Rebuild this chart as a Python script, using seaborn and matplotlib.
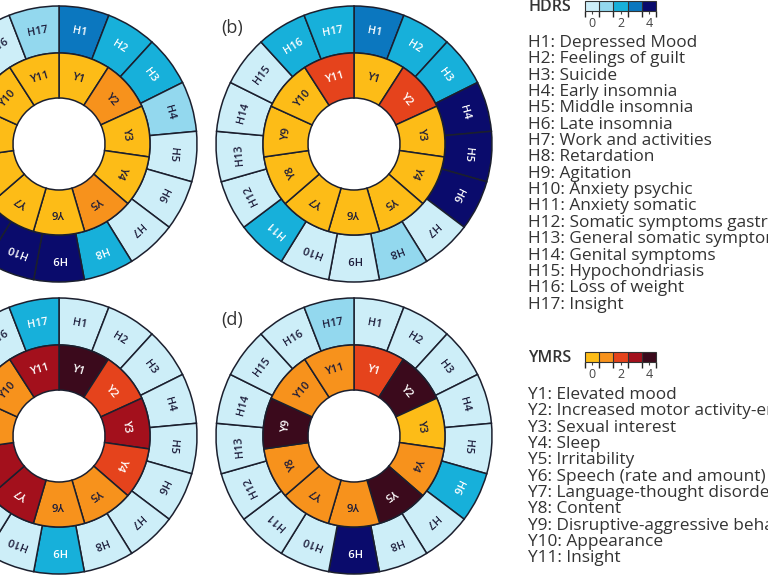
import numpy as np
import matplotlib
matplotlib.use("Agg")
import matplotlib.pyplot as plt
import seaborn as sns
from matplotlib.colors import ListedColormap, BoundaryNorm
from matplotlib.cm import ScalarMappable

sns.set_theme(style="white")
plt.rcParams["font.family"] = ["Open Sans", "DejaVu Sans"]

# item scores (0-4) per panel, H1..H17 and Y1..Y11
panels = ["(a)", "(b)", "(c)", "(d)"]
hdrs_a = [3, 2, 2, 1, 0, 0, 0, 2, 4, 4, 4, 0, 0, 0, 0, 0, 1]
hdrs_b = [3, 2, 2, 4, 4, 4, 0, 1, 0, 0, 2, 0, 0, 0, 0, 2, 2]
hdrs_c = [0, 0, 0, 0, 0, 0, 0, 0, 2, 0, 0, 0, 0, 0, 0, 0, 2]
hdrs_d = [0, 0, 0, 0, 0, 2, 0, 0, 4, 0, 0, 0, 0, 0, 0, 0, 1]
ymrs_a = [0, 1, 0, 0, 1, 0, 0, 0, 0, 0, 0]
ymrs_b = [0, 2, 0, 0, 0, 0, 0, 0, 0, 0, 2]
ymrs_c = [4, 2, 3, 2, 1, 1, 3, 3, 1, 1, 3]
ymrs_d = [2, 4, 0, 1, 4, 1, 1, 1, 4, 1, 1]

hdrs_labels = ["H%d" % i for i in range(1, 18)]
ymrs_labels = ["Y%d" % i for i in range(1, 12)]
hdrs_names = ["Depressed Mood", "Feelings of guilt", "Suicide", "Early insomnia",
              "Middle insomnia", "Late insomnia", "Work and activities",
              "Retardation", "Agitation", "Anxiety psychic", "Anxiety somatic",
              "Somatic symptoms gastrointestinal", "General somatic symptoms",
              "Genital symptoms", "Hypochondriasis", "Loss of weight", "Insight"]
ymrs_names = ["Elevated mood", "Increased motor activity-energy", "Sexual interest",
              "Sleep", "Irritability", "Speech (rate and amount)",
              "Language-thought disorder", "Content",
              "Disruptive-aggressive behavior", "Appearance", "Insight"]

hdrs_colors = ["#cdeef8", "#93d8ee", "#17b0da", "#0b77bf", "#0a0b6c"]
ymrs_colors = ["#fdbc17", "#f7921c", "#e5431c", "#a3101c", "#3b0a1c"]

W, H = 768, 576
centers = [(59, 144), (354, 144), (59, 436), (354, 436)]
r_out, r_mid, r_in = 138, 91, 46
edge = "#1b1f2e"

fig = plt.figure(figsize=(7.68, 5.76), dpi=100)
ax = fig.add_axes([0, 0, 1, 1])

hdrs_all = [hdrs_a, hdrs_b, hdrs_c, hdrs_d]
ymrs_all = [ymrs_a, ymrs_b, ymrs_c, ymrs_d]


def ring(vals, labels, pal, cx, cy, r1, r2):
    wedges, _ = ax.pie(np.ones(len(vals)), radius=r1, center=(cx, cy),
                       startangle=90, counterclock=False,
                       colors=[pal[v] for v in vals],
                       wedgeprops=dict(width=r1 - r2, edgecolor=edge, linewidth=1.1))
    rt = (r1 + r2) / 2
    for w, v, lab in zip(wedges, vals, labels):
        mid = np.deg2rad((w.theta1 + w.theta2) / 2)
        ax.text(cx + rt * np.cos(mid), cy + rt * np.sin(mid), lab,
                rotation=np.rad2deg(mid) - 90, rotation_mode="anchor",
                ha="center", va="center", fontsize=8, fontweight="semibold",
                color="white" if v >= 2 else "#1c1c3a")


for (px, py), hv, yv, tag in zip(centers, hdrs_all, ymrs_all, panels):
    cy = H - py
    ring(hv, hdrs_labels, hdrs_colors, px, cy, r_out, r_mid)
    ring(yv, ymrs_labels, ymrs_colors, px, cy, r_mid, r_in)
    ax.text(px - 122, cy + 116, tag, fontsize=13, color="#333333",
            ha="center", va="center")

ax.set_xlim(0, W)
ax.set_ylim(0, H)
ax.set_aspect("equal")
ax.axis("off")


def scale_legend(title, pal, ytop, names, prefix, y0):
    ax.text(528, H - (ytop + 6), title, fontsize=11.5, fontweight="semibold",
            color="#333333", ha="left", va="center")
    cax = fig.add_axes([585 / W, 1 - (ytop + 10) / H, 71 / W, 10 / H])
    cmap = ListedColormap(pal)
    norm = BoundaryNorm(np.arange(-0.5, 5.5, 1), cmap.N)
    cb = fig.colorbar(ScalarMappable(norm=norm, cmap=cmap), cax=cax,
                      orientation="horizontal", ticks=[0, 2, 4], drawedges=True)
    cb.outline.set_edgecolor("#333333")
    cb.outline.set_linewidth(0.8)
    cb.dividers.set_color("#333333")
    cb.dividers.set_linewidth(0.8)
    cax.tick_params(labelsize=9, length=2.5, width=0.8, pad=1.5, colors="#444444")
    for i, name in enumerate(names):
        ax.text(528, H - (y0 + 16.35 * i), "%s%d: %s" % (prefix, i + 1, name),
                fontsize=12.4, color="#333333", ha="left", va="center")


scale_legend("HDRS", hdrs_colors, 1, hdrs_names, "H", 43)
scale_legend("YMRS", ymrs_colors, 352, ymrs_names, "Y", 395)

fig.savefig("out.png", dpi=100)
